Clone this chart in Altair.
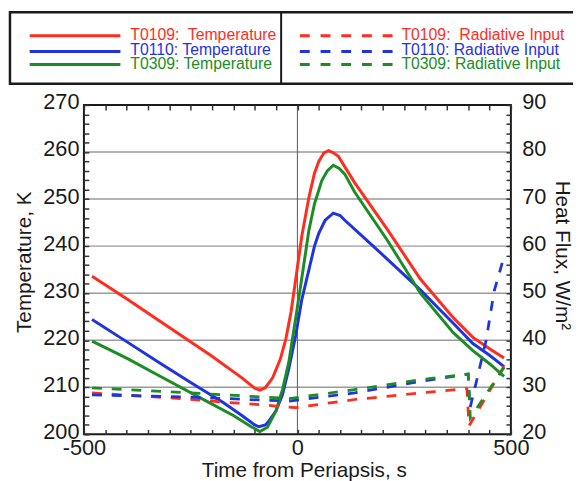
import altair as alt
import pandas as pd

# ---------------- data ----------------
SERIES = ["T0109", "T0110", "T0309"]
COLORS = ["#ff2d1e", "#1f33e0", "#1c8c24"]

# Temperature (left axis, K)
TIME_TEMP_T0109 = [-481, -400, -300, -200, -130, -100, -88, -75, -58, -40, -27, -15, -4, 10, 27, 40, 50, 62, 73, 85, 96, 110, 134, 211, 288, 365, 411, 450, 484]
TEMP_T0109 = [233.6, 228.8, 222.7, 216.6, 212.0, 209.8, 209.4, 209.9, 212.0, 216.0, 220.3, 226.0, 232.9, 242.0, 250.4, 255.5, 258.0, 259.8, 260.3, 259.8, 259.1, 257.0, 253.5, 243.5, 233.0, 224.8, 220.6, 218.2, 216.2]

TIME_TEMP_T0110 = [-481, -400, -327, -250, -173, -130, -100, -90, -75, -66, -50, -35, -20, -4, 10, 27, 40, 50, 65, 84, 100, 111, 150, 211, 288, 365, 411, 450, 484]
TEMP_T0110 = [224.4, 219.7, 215.4, 211.0, 206.7, 204.0, 202.0, 201.6, 202.0, 202.9, 205.0, 208.4, 214.0, 221.0, 228.5, 235.0, 240.0, 242.7, 245.5, 247.0, 246.5, 245.5, 242.3, 237.2, 230.7, 223.6, 219.3, 216.8, 214.4]

TIME_TEMP_T0309 = [-481, -400, -327, -212, -150, -110, -88, -70, -50, -35, -20, 4, 27, 40, 57, 70, 84, 98, 111, 134, 211, 288, 365, 411, 450, 484]
TEMP_T0309 = [219.8, 216.2, 212.6, 207.0, 204.0, 201.7, 200.6, 201.5, 205.0, 209.5, 215.4, 229.4, 243.4, 249.0, 253.9, 256.0, 257.2, 256.5, 255.3, 251.5, 241.2, 230.0, 221.6, 217.8, 215.0, 212.3]

# Radiative input (right axis, W/m^2)
TIME_RAD_T0109 = [-481, -300, -150, -96, -4, 134, 288, 397, 402, 484]
RAD_T0109 = [28.8, 27.75, 26.7, 26.35, 25.65, 27.4, 28.8, 29.7, 21.8, 34.5]

TIME_RAD_T0110 = [-481, -250, -19, 134, 288, 400, 404, 420, 442, 461, 484]
RAD_T0110 = [28.4, 27.9, 27.05, 28.8, 31.25, 32.8, 25.5, 31.5, 40.0, 50.5, 57.8]

TIME_RAD_T0309 = [-481, -250, -19, 134, 288, 400, 405, 484]
RAD_T0309 = [29.85, 28.8, 27.6, 29.5, 31.6, 32.8, 23.5, 34.2]

TEMP_TICKS = list(range(200, 271, 2))
FLUX_TICKS = list(range(20, 91, 2))
TIME_TICKS = list(range(-500, 501, 50))
FLUX_GRID = [30, 40, 50, 60, 70, 80]

LEGEND_TEMP = ["T0109:\u00a0 Temperature", "T0110: Temperature", "T0309: Temperature"]
LEGEND_RAD = ["T0109:\u00a0 Radiative Input", "T0110: Radiative Input", "T0309: Radiative Input"]

# ---------------- tables ----------------
def frame(times, values, name):
    return pd.DataFrame({"t": times, "v": values, "s": name})

temp_df = pd.concat([
    frame(TIME_TEMP_T0109, TEMP_T0109, "T0109"),
    frame(TIME_TEMP_T0110, TEMP_T0110, "T0110"),
    frame(TIME_TEMP_T0309, TEMP_T0309, "T0309"),
])
rad_df = pd.concat([
    frame(TIME_RAD_T0109, RAD_T0109, "T0109"),
    frame(TIME_RAD_T0110, RAD_T0110, "T0110"),
    frame(TIME_RAD_T0309, RAD_T0309, "T0309"),
])
grid_df = pd.DataFrame({"g": FLUX_GRID})

FONT = "Liberation Sans, Arial, Helvetica, sans-serif"
INK = "#1a1a1a"

x_scale = alt.Scale(domain=[-500, 500], nice=False, zero=False)
temp_scale = alt.Scale(domain=[200, 270], nice=False, zero=False)
flux_scale = alt.Scale(domain=[20, 90], nice=False, zero=False)
color_scale = alt.Scale(domain=SERIES, range=COLORS)

tick_common = dict(tickSize=5, offset=-5, domain=False, grid=False, tickColor="#333333",
                   tickWidth=1.5, zindex=1, labelOverlap=False, labelFlush=False,
                   labelFont=FONT, labelFontSize=22, labelColor=INK,
                   titleFont=FONT, titleFontSize=21, titleFontWeight="normal", titleColor=INK)

x_bottom = alt.Axis(orient="bottom", values=TIME_TICKS,
                    labelExpr="datum.value % 500 == 0 ? '' + datum.value : ''",
                    labelPadding=3, title="Time from Periapsis, s", titlePadding=2,
                    titleX=223, **tick_common)
x_top = alt.Axis(orient="top", values=TIME_TICKS, labels=False, title=None,
                 **{k: v for k, v in tick_common.items() if not k.startswith("label")})
y_left = alt.Axis(orient="left", values=TEMP_TICKS,
                  labelExpr="datum.value % 10 == 0 ? '' + datum.value : ''",
                  labelPadding=5, labelOffset=-3, title="Temperature, K",
                  titlePadding=8, titleY=159, **tick_common)
y_right = alt.Axis(orient="right", values=FLUX_TICKS,
                   labelExpr="datum.value % 10 == 0 ? '' + datum.value : ''",
                   labelPadding=11, labelOffset=-3, title="Heat Flux, W/m\u00b2",
                   titlePadding=6, titleY=152, **tick_common)

grid = alt.Chart(grid_df).mark_rule(color="#9a9a9a", strokeWidth=1.5).encode(
    y=alt.Y("g:Q", scale=flux_scale, axis=None)
)
zero = alt.Chart().mark_rule(color="#555555", strokeWidth=1).encode(
    x=alt.XDatum(0, type="quantitative", scale=x_scale, axis=None)
)
temp = alt.Chart(temp_df).mark_line(strokeWidth=3).encode(
    x=alt.X("t:Q", scale=x_scale, axis=x_bottom),
    y=alt.Y("v:Q", scale=temp_scale, axis=y_left),
    color=alt.Color("s:N", scale=color_scale, legend=None),
)
rad = alt.Chart(rad_df).mark_line(strokeWidth=2.8, strokeDash=[10, 10]).encode(
    x=alt.X("t:Q", scale=x_scale, axis=x_top),
    y=alt.Y("v:Q", scale=flux_scale, axis=y_right),
    color=alt.Color("s:N", scale=color_scale, legend=None),
)
plot_frame = alt.Chart().mark_rect(fillOpacity=0, stroke=INK, strokeWidth=2).encode(
    x=alt.value(0), x2=alt.value("width"), y=alt.value(0), y2=alt.value("height")
)

# ---------------- legend box (layout above the plot) ----------------
BOX_LEFT, BOX_RIGHT, BOX_TOP, BOX_BOTTOM, DIVIDER = -75, 520, -94, -21.5, 200
ROW_LINE_Y = [-70.3, -54.3, -41]
ROW_TEXT_Y = [-71.2, -55.6, -41.8]
COL1_LINE = (-55, 37)
COL2_LINE = (219, 313)
COL1_TEXT, COL2_TEXT = 47, 322

legend_layers = [
    alt.Chart().mark_rect(fill="white", stroke=INK, strokeWidth=2.5).encode(
        x=alt.value(BOX_LEFT), x2=alt.value(BOX_RIGHT), y=alt.value(BOX_TOP), y2=alt.value(BOX_BOTTOM)),
    alt.Chart().mark_rule(color=INK, strokeWidth=2).encode(
        x=alt.value(DIVIDER), y=alt.value(BOX_TOP), y2=alt.value(BOX_BOTTOM)),
]
for i, col in enumerate(COLORS):
    legend_layers.append(alt.Chart().mark_rule(color=col, strokeWidth=3).encode(
        x=alt.value(COL1_LINE[0]), x2=alt.value(COL1_LINE[1]), y=alt.value(ROW_LINE_Y[i])))
    legend_layers.append(alt.Chart().mark_rule(color=col, strokeWidth=3, strokeDash=[10, 11]).encode(
        x=alt.value(COL2_LINE[0]), x2=alt.value(COL2_LINE[1]), y=alt.value(ROW_LINE_Y[i])))
    legend_layers.append(alt.Chart().mark_text(align="left", baseline="middle", font=FONT,
                                                fontSize=16, color=col).encode(
        x=alt.value(COL1_TEXT), y=alt.value(ROW_TEXT_Y[i]), text=alt.value(LEGEND_TEMP[i])))
    legend_layers.append(alt.Chart().mark_text(align="left", baseline="middle", font=FONT,
                                                fontSize=16, color=col).encode(
        x=alt.value(COL2_TEXT), y=alt.value(ROW_TEXT_Y[i]), text=alt.value(LEGEND_RAD[i])))

chart = alt.layer(grid, zero, temp, rad, plot_frame, *legend_layers).resolve_scale(
    y="independent"
).resolve_axis(
    x="independent", y="independent"
).properties(
    width=433, height=334,
    autosize=alt.AutoSizeParams(type="none"),
    padding={"left": 77, "top": 95, "right": 63, "bottom": 44},
    background="white",
).configure_view(stroke=None)

chart.save("out.html", embed_options={"renderer": "svg", "actions": False})
